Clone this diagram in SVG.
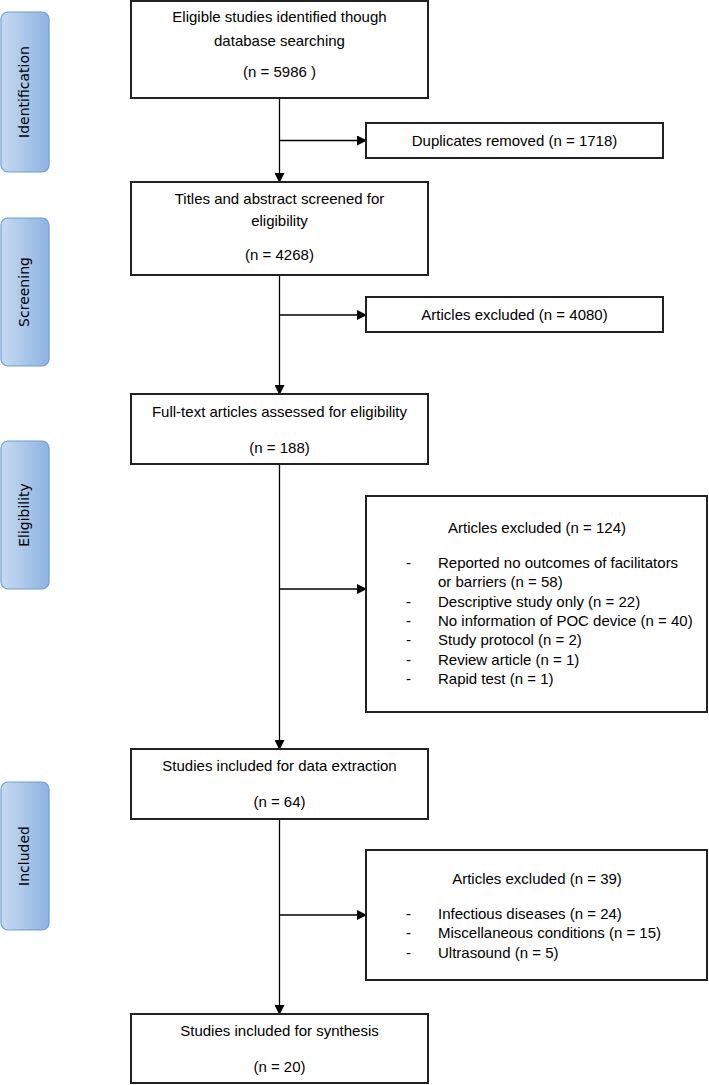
<svg xmlns="http://www.w3.org/2000/svg" width="709" height="1085" viewBox="0 0 709 1085">
<defs>
<linearGradient id="lg" x1="0" y1="0" x2="1" y2="0">
<stop offset="0" stop-color="#c7daf1"/>
<stop offset="1" stop-color="#8db3e2"/>
</linearGradient>
<marker id="ah" markerWidth="10" markerHeight="10" refX="9" refY="5" orient="auto" markerUnits="userSpaceOnUse">
<path d="M0,0 L10,5 L0,10 Z" fill="#000"/>
</marker>
<style>
.box{fill:#fff;stroke:#222;stroke-width:2}
.lab{fill:url(#lg);stroke:#6d9dd6;stroke-width:1.2}
.lt{font-family:"DejaVu Sans",sans-serif;font-size:14px;fill:#000;text-anchor:middle}
.t{font-family:"Liberation Sans",Arial,sans-serif;font-size:15px;fill:#000}
.c{text-anchor:middle}
.ln{fill:none;stroke:#000;stroke-width:1.3}
</style>
</defs>
<g id="stage-identification">
<rect class="lab" x="1" y="12" width="48" height="160" rx="7"/>
<text class="lt" transform="translate(29,92) rotate(-90)">Identification</text>
</g>
<g id="stage-screening">
<rect class="lab" x="1" y="218" width="48" height="148" rx="7"/>
<text class="lt" transform="translate(29,292) rotate(-90)">Screening</text>
</g>
<g id="stage-eligibility">
<rect class="lab" x="1" y="441" width="48" height="148" rx="7"/>
<text class="lt" transform="translate(29,515) rotate(-90)">Eligibility</text>
</g>
<g id="stage-included">
<rect class="lab" x="1" y="782" width="48" height="148" rx="7"/>
<text class="lt" transform="translate(29,856) rotate(-90)">Included</text>
</g>
<g id="connectors">
<line class="ln" x1="279.5" y1="98" x2="279.5" y2="182" marker-end="url(#ah)"/>
<line class="ln" x1="279.5" y1="140.5" x2="366" y2="140.5" marker-end="url(#ah)"/>
<line class="ln" x1="279.5" y1="275" x2="279.5" y2="394" marker-end="url(#ah)"/>
<line class="ln" x1="279.5" y1="315" x2="366" y2="315" marker-end="url(#ah)"/>
<line class="ln" x1="279.5" y1="464" x2="279.5" y2="749" marker-end="url(#ah)"/>
<line class="ln" x1="279.5" y1="589" x2="366" y2="589" marker-end="url(#ah)"/>
<line class="ln" x1="279.5" y1="819" x2="279.5" y2="1014" marker-end="url(#ah)"/>
<line class="ln" x1="279.5" y1="915" x2="366" y2="915" marker-end="url(#ah)"/>
</g>
<g id="identified">
<rect class="box" x="131" y="1" width="297" height="97"/>
<text class="t c" x="279.5" y="22">Eligible studies identified though</text>
<text class="t c" x="279.5" y="45.5">database searching</text>
<text class="t c" x="279.5" y="76.5">(n = 5986 )</text>
</g>
<g id="duplicates">
<rect class="box" x="366" y="123" width="297" height="35"/>
<text class="t c" x="514.5" y="145.5">Duplicates removed (n = 1718)</text>
</g>
<g id="screened">
<rect class="box" x="131" y="182" width="297" height="93"/>
<text class="t c" x="279.5" y="203.5">Titles and abstract screened for</text>
<text class="t c" x="279.5" y="225.5">eligibility</text>
<text class="t c" x="279.5" y="260">(n = 4268)</text>
</g>
<g id="excluded-4080">
<rect class="box" x="366" y="297" width="297" height="35"/>
<text class="t c" x="514.5" y="320">Articles excluded (n = 4080)</text>
</g>
<g id="fulltext">
<rect class="box" x="131" y="394" width="297" height="70"/>
<text class="t c" x="279.5" y="416.5">Full-text articles assessed for eligibility</text>
<text class="t c" x="279.5" y="452.5">(n = 188)</text>
</g>
<g id="excluded-124">
<rect class="box" x="366" y="496" width="341" height="216"/>
<text class="t c" x="537" y="533">Articles excluded (n = 124)</text>
<text class="t" x="406" y="567.5">-</text><text class="t" x="438" y="567.5">Reported no outcomes of facilitators</text>
<text class="t" x="438" y="587">or barriers (n = 58)</text>
<text class="t" x="406" y="606.5">-</text><text class="t" x="438" y="606.5">Descriptive study only (n = 22)</text>
<text class="t" x="406" y="626">-</text><text class="t" x="438" y="626">No information of POC device (n = 40)</text>
<text class="t" x="406" y="645">-</text><text class="t" x="438" y="645">Study protocol (n = 2)</text>
<text class="t" x="406" y="664.5">-</text><text class="t" x="438" y="664.5">Review article (n = 1)</text>
<text class="t" x="406" y="684">-</text><text class="t" x="438" y="684">Rapid test (n = 1)</text>
</g>
<g id="extraction">
<rect class="box" x="131" y="749" width="297" height="70"/>
<text class="t c" x="279.5" y="771">Studies included for data extraction</text>
<text class="t c" x="279.5" y="806.5">(n = 64)</text>
</g>
<g id="excluded-39">
<rect class="box" x="366" y="850" width="341" height="130"/>
<text class="t c" x="537" y="883.5">Articles excluded (n = 39)</text>
<text class="t" x="406" y="918.5">-</text><text class="t" x="438" y="918.5">Infectious diseases (n = 24)</text>
<text class="t" x="406" y="938">-</text><text class="t" x="438" y="938">Miscellaneous conditions (n = 15)</text>
<text class="t" x="406" y="957.5">-</text><text class="t" x="438" y="957.5">Ultrasound (n = 5)</text>
</g>
<g id="synthesis">
<rect class="box" x="131" y="1014" width="297" height="69"/>
<text class="t c" x="279.5" y="1036">Studies included for synthesis</text>
<text class="t c" x="279.5" y="1071.5">(n = 20)</text>
</g>
</svg>
